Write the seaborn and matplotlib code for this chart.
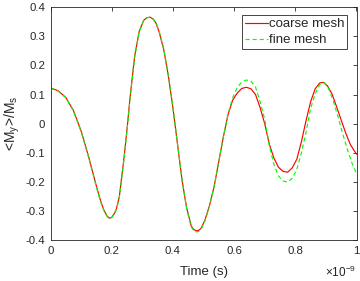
import matplotlib
matplotlib.use("Agg")
import matplotlib.pyplot as plt
import seaborn as sns
import pandas as pd
from matplotlib.ticker import FuncFormatter

# ---- data (time in ns) ----
t_coarse = [0.000, 0.025, 0.050, 0.075, 0.100, 0.125, 0.150, 0.165, 0.175, 0.185,
            0.193, 0.200, 0.208, 0.215, 0.225, 0.240, 0.250, 0.260, 0.275, 0.290,
            0.305, 0.315, 0.325, 0.335, 0.345, 0.355, 0.370, 0.385, 0.400, 0.415,
            0.430, 0.445, 0.460, 0.468, 0.476, 0.484, 0.492, 0.505, 0.520, 0.535,
            0.550, 0.565, 0.580, 0.595, 0.610, 0.625, 0.640, 0.655, 0.670, 0.685,
            0.700, 0.715, 0.730, 0.745, 0.760, 0.775, 0.790, 0.805, 0.820, 0.835,
            0.850, 0.865, 0.880, 0.892, 0.905, 0.920, 0.935, 0.950, 0.965, 0.980,
            1.000]
m_coarse = [0.123, 0.113, 0.090, 0.045, -0.025, -0.115, -0.215, -0.270, -0.298, -0.318,
            -0.325, -0.322, -0.310, -0.295, -0.250, -0.120, -0.020, 0.090, 0.232, 0.318,
            0.356, 0.364, 0.366, 0.360, 0.345, 0.315, 0.255, 0.165, 0.055, -0.070,
            -0.195, -0.290, -0.352, -0.364, -0.368, -0.367, -0.360, -0.331, -0.280, -0.215,
            -0.130, -0.045, 0.030, 0.080, 0.105, 0.121, 0.125, 0.120, 0.100, 0.055,
            0.000, -0.070, -0.118, -0.150, -0.164, -0.167, -0.152, -0.122, -0.062, 0.010,
            0.075, 0.120, 0.140, 0.142, 0.130, 0.102, 0.058, 0.012, -0.033, -0.072,
            -0.105]

t_fine = [0.000, 0.025, 0.050, 0.075, 0.100, 0.125, 0.150, 0.165, 0.175, 0.185,
          0.193, 0.200, 0.208, 0.215, 0.225, 0.240, 0.250, 0.260, 0.275, 0.290,
          0.305, 0.315, 0.325, 0.335, 0.345, 0.355, 0.370, 0.385, 0.400, 0.415,
          0.430, 0.445, 0.460, 0.468, 0.476, 0.484, 0.492, 0.505, 0.520, 0.535,
          0.550, 0.565, 0.580, 0.595, 0.610, 0.625, 0.640, 0.655, 0.670, 0.685,
          0.700, 0.715, 0.730, 0.745, 0.760, 0.775, 0.790, 0.805, 0.820, 0.835,
          0.850, 0.865, 0.880, 0.895, 0.910, 0.925, 0.940, 0.955, 0.970, 0.985,
          1.000]
m_fine = [0.122, 0.112, 0.089, 0.043, -0.027, -0.118, -0.218, -0.272, -0.300, -0.319,
          -0.326, -0.323, -0.312, -0.297, -0.254, -0.125, -0.025, 0.085, 0.228, 0.316,
          0.356, 0.364, 0.366, 0.361, 0.347, 0.318, 0.258, 0.168, 0.058, -0.068,
          -0.195, -0.292, -0.355, -0.368, -0.372, -0.371, -0.364, -0.334, -0.282, -0.215,
          -0.130, -0.045, 0.032, 0.088, 0.124, 0.143, 0.150, 0.146, 0.126, 0.075,
          0.015, -0.075, -0.140, -0.180, -0.197, -0.201, -0.188, -0.157, -0.100, -0.030,
          0.052, 0.103, 0.135, 0.141, 0.118, 0.075, 0.022, -0.035, -0.088, -0.135,
          -0.172]

series_names = ["coarse mesh", "fine mesh"]
y_ticks = [-0.4, -0.3, -0.2, -0.1, 0.0, 0.1, 0.2, 0.3, 0.4]
x_ticks = [0.0, 0.2, 0.4, 0.6, 0.8, 1.0]

df = pd.concat([
    pd.DataFrame({"t": [v * 1e-9 for v in t_coarse], "m": m_coarse, "series": series_names[0]}),
    pd.DataFrame({"t": [v * 1e-9 for v in t_fine], "m": m_fine, "series": series_names[1]}),
], ignore_index=True)

sns.set_theme(style="white")
plt.rcParams["font.family"] = ["Liberation Sans", "DejaVu Sans"]
plt.rcParams["axes.unicode_minus"] = False
plt.rcParams["mathtext.fontset"] = "custom"
plt.rcParams["mathtext.rm"] = "Liberation Sans"

dark = "#262626"
fig = plt.figure(figsize=(3.6, 2.81), dpi=100)
ax = fig.add_axes([50.5 / 360, 1 - 240 / 281, 306 / 360, 232.7 / 281])

sns.lineplot(data=df, x="t", y="m", hue="series", style="series",
             palette={"coarse mesh": "#ff0000", "fine mesh": "#00ff00"},
             dashes={"coarse mesh": "", "fine mesh": (3.5, 2.5)},
             estimator=None, sort=False, linewidth=0.85, ax=ax, legend=True)

ax.set_xlim(0, 1e-9)
ax.set_ylim(-0.4, 0.4)
ax.set_xticks([v * 1e-9 for v in x_ticks])
ax.set_yticks(y_ticks)
ax.xaxis.set_major_formatter(FuncFormatter(lambda v, _: f"{v * 1e9:g}"))
ax.yaxis.set_major_formatter(FuncFormatter(lambda v, _: f"{round(v, 2):g}"))
ax.tick_params(direction="in", length=3, width=0.6, colors=dark, labelsize=8.2,
               top=True, right=True, labeltop=False, labelright=False)
ax.tick_params(axis="x", pad=4)
ax.tick_params(axis="y", pad=4)
for s in ax.spines.values():
    s.set_visible(True)
    s.set_color(dark)
    s.set_linewidth(0.6)

ax.set_xlabel("Time (s)", fontsize=9.5, color=dark)
ax.set_ylabel(r"<M$_\mathrm{y}$>/M$_\mathrm{s}$", fontsize=10, color=dark)
ax.xaxis.set_label_coords(0.5, (240 - 271.5) / 232.7)
ax.xaxis.label.set_va("center")
ax.yaxis.set_label_coords((12 - 50.5) / 306, 0.5)
ax.yaxis.label.set_va("center")

ax.text(1.0, (240 - 272.5) / 232.7, r"$\times$10$^{-9}$", transform=ax.transAxes,
        ha="right", va="center", fontsize=8.5, color=dark)

leg = ax.legend(loc="upper right", bbox_to_anchor=((347 - 50.5) / 306, (240 - 15.3) / 232.7),
                borderaxespad=0, fontsize=9.5, frameon=True, fancybox=False,
                framealpha=1, edgecolor=dark, handlelength=1.7, handletextpad=0.1,
                labelspacing=0.3, borderpad=0.2, title=None)
leg.get_frame().set_linewidth(0.6)

fig.savefig("out.png", dpi=100)
